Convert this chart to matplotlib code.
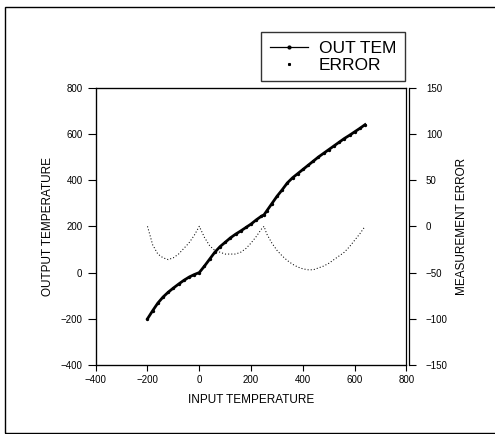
import numpy as np
import matplotlib
matplotlib.use("Agg")
import matplotlib.pyplot as plt
from matplotlib.lines import Line2D
from matplotlib.patches import Rectangle

plt.rcParams['font.family'] = ['Liberation Sans', 'DejaVu Sans']

# 입력 온도 (x 축)
input_temp = [-200, -180, -160, -140, -120, -100, -80, -60, -40, -20, 0,
              20, 40, 60, 80, 100, 120, 140, 160, 180, 200, 220, 240, 250,
              260, 280, 300, 320, 340, 360, 380, 400, 420, 440, 460, 480,
              500, 520, 540, 560, 580, 600, 620, 640]

# 출력 온도 (왼쪽 축)
out_tem = [-200, -165, -132, -106, -85, -67, -50, -34, -20, -9, 0,
           28, 58, 88, 112, 131, 150, 166, 180, 195, 210, 228, 244, 250,
           266, 298, 330, 358, 388, 410, 428, 446, 464, 482, 500, 516,
           532, 548, 564, 580, 594, 609, 624, 640]

# 측정 오차 (오른쪽 축)
error = [0, -20, -30, -34, -36, -34, -30, -24, -18, -10, 0,
         -12, -21, -26, -28, -30, -30, -30, -28, -24, -18, -11, -3, 0,
         -8, -18, -26, -32, -37, -41, -44, -46, -47, -47, -45, -43,
         -40, -36, -32, -28, -22, -15, -8, 0]

fig = plt.figure(figsize=(4.95, 4.34), dpi=100)
ax = fig.add_axes([0.1933, 0.159, 0.6279, 0.639])

ax.plot(input_temp, out_tem, color='black', linewidth=2.0,
        marker='o', markersize=1.4)
ax.set_xlim(-400, 800)
ax.set_ylim(-400, 800)
ax.set_xticks([-400, -200, 0, 200, 400, 600, 800])
ax.set_yticks([-400, -200, 0, 200, 400, 600, 800])
ax.tick_params(axis='both', direction='out', labelsize=7, width=0.8)
ax.tick_params(axis='y', length=6)
ax.tick_params(axis='x', length=4)
for s in ax.spines.values():
    s.set_linewidth(0.9)
ax.set_xlabel('INPUT TEMPERATURE', fontsize=8.5, labelpad=6)
ax.set_ylabel('OUTPUT TEMPERATURE', fontsize=8.5, labelpad=5)

ax2 = ax.twinx()
ax2.plot(input_temp, error, color='black', linewidth=0.75, linestyle=(0, (1, 2)))
ax2.set_ylim(-150, 150)
ax2.set_yticks([-150, -100, -50, 0, 50, 100, 150])
ax2.spines['right'].set_position(('outward', 2))
ax2.spines['right'].set_linewidth(0.9)
ax2.tick_params(axis='y', direction='out', length=5, labelsize=7, width=0.8, pad=7)
ax2.set_ylabel('MEASUREMENT ERROR', fontsize=8.5, labelpad=6)

# 범례
h1 = Line2D([], [], color='black', linewidth=0.9, marker='o', markersize=2)
h2 = Line2D([], [], color='black', linestyle='none', marker='s', markersize=1.2)
leg = fig.legend([h1, h2], ['OUT TEM', 'ERROR'], loc='upper left',
                 bbox_to_anchor=(261 / 495, 1 - 32 / 434), fontsize=12.5,
                 frameon=True, fancybox=False, edgecolor='black',
                 handlelength=2.2, handletextpad=0.63, borderpad=0.5,
                 labelspacing=0.1, numpoints=1, borderaxespad=0)
leg.get_frame().set_linewidth(1.0)

# 바깥 테두리 (오른쪽은 그림 밖)
frame = Rectangle((5 / 495, 1 / 434), 1.2, 1 - 8 / 434, transform=fig.transFigure,
                  fill=False, edgecolor='black', linewidth=1.0, clip_on=False)
fig.add_artist(frame)

fig.savefig('out.png', dpi=100)
